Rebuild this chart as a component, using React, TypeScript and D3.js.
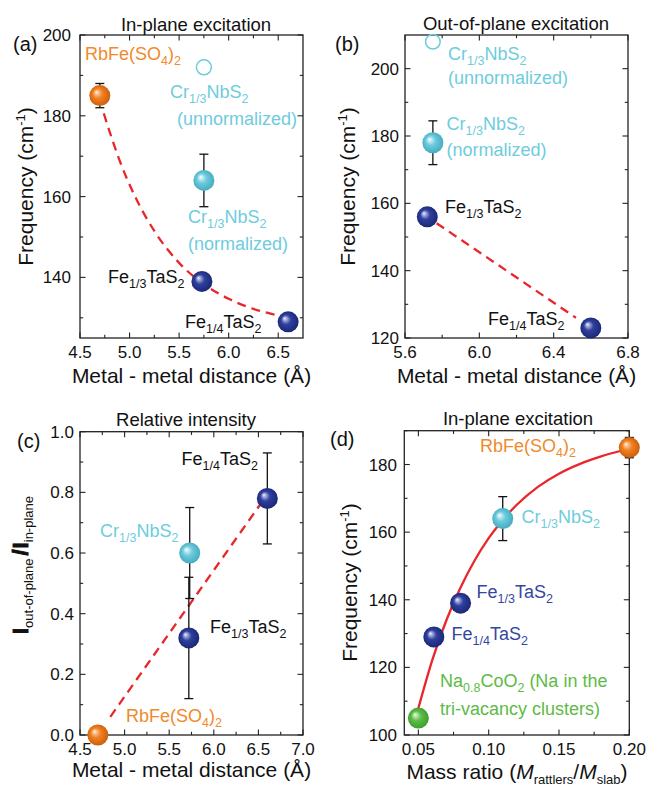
import React from 'react';
import * as d3 from 'd3';

// ---------- DATA ----------
// (a) In-plane excitation vs metal-metal distance
const aLabels = ['RbFe(SO4)2', 'Cr1/3NbS2 (normalized)', 'Fe1/3TaS2', 'Fe1/4TaS2'];
const aDist = [4.7, 5.75, 5.73, 6.6];
const aFreq = [185, 164, 139, 129];
const aErr = [3, 6.5, 0, 0];
const aColors = ['orange', 'cyan', 'navy', 'navy'];
const aOpenDist = [5.75];
const aOpenFreq = [192];
const aFitDist = [4.74, 4.9, 5.05, 5.25, 5.5, 5.75, 6.0, 6.25, 6.5];
const aFitFreq = [180.6, 168.9, 160.3, 151.5, 143.6, 138.3, 134.7, 132.2, 130.6];

// (b) Out-of-plane excitation
const bDist = [5.75, 5.72, 6.6];
const bFreq = [178, 156, 123];
const bErr = [6.5, 0, 0];
const bColors = ['cyan', 'navy', 'navy'];
const bOpenDist = [5.75];
const bOpenFreq = [208];
const bFitDist = [5.77, 6.52];
const bFitFreq = [154.1, 126.0];

// (c) Relative intensity
const cDist = [4.7, 5.73, 5.72, 6.6];
const cRatio = [0, 0.6, 0.32, 0.78];
const cErr = [0, 0.15, 0.2, 0.15];
const cColors = ['orange', 'cyan', 'navy', 'navy'];
const cFitDist = [4.84, 6.52];
const cFitRatio = [0.06, 0.76];

// (d) In-plane excitation vs mass ratio
const dMass = [0.05, 0.061, 0.08, 0.11, 0.2];
const dFreq = [105, 129, 139, 164, 185];
const dErr = [0, 0, 0, 6.5, 3];
const dColors = ['green', 'navy', 'navy', 'cyan', 'orange'];
const dFitMass = [0.049, 0.06, 0.07, 0.08, 0.09, 0.1, 0.11, 0.12, 0.135, 0.15, 0.165, 0.18, 0.196];
const dFitFreq = [106.4, 122.3, 134.0, 143.6, 151.6, 158.2, 163.6, 168.1, 173.4, 177.3, 180.2, 182.4, 184.3];

// ticks
const aXMajor = [4.5, 5.0, 5.5, 6.0, 6.5];
const aXMinor = [4.75, 5.25, 5.75, 6.25];
const aYMajor = [140, 160, 180, 200];
const aYMinor = [130, 150, 170, 190];
const bXMajor = [5.6, 6.0, 6.4, 6.8];
const bXMinor = [5.8, 6.2, 6.6];
const bYMajor = [120, 140, 160, 180, 200];
const bYMinor = [130, 150, 170, 190];
const cXMajor = [4.5, 5.0, 5.5, 6.0, 6.5, 7.0];
const cXMinor = [4.75, 5.25, 5.75, 6.25, 6.75];
const cYMajor = [0, 0.2, 0.4, 0.6, 0.8, 1.0];
const cYMinor = [0.1, 0.3, 0.5, 0.7, 0.9];
const dXMajor = [0.05, 0.1, 0.15, 0.2];
const dXMinor = [0.075, 0.125, 0.175];
const dYMajor = [100, 120, 140, 160, 180];
const dYMinor = [110, 130, 150, 170, 190];

// ---------- STYLE ----------
const FONT = "'Liberation Sans', Arial, Helvetica, sans-serif";
const COL: Record<string, { base: string; dark: string; light: string; text: string }> = {
  orange: { base: '#F28121', dark: '#C65A0B', light: '#FBD1A8', text: '#F08A2C' },
  cyan: { base: '#6DCBDC', dark: '#3EA8BD', light: '#D6F2F7', text: '#6ECCDD' },
  navy: { base: '#2E3F9E', dark: '#1A246E', light: '#B9C0E6', text: '#3447A0' },
  green: { base: '#5EBD46', dark: '#3A9A2A', light: '#CDEDC3', text: '#5DBB46' },
};
const RED = '#E8262B';
const BALL_R = 10.5;

type Seg = [string, ('b' | 'p' | 'i' | 'bi')?];

function Rich(props: {
  x: number; y: number; segs: Seg[]; size: number; sub: number; fill: string;
  anchor?: string; transform?: string; subShift?: number; supShift?: number;
}) {
  const { x, y, segs, size, sub, fill, anchor = 'start', transform, subShift = 5, supShift = -8 } = props;
  let cur = 0;
  return (
    <text x={x} y={y} fontSize={size} fill={fill} textAnchor={anchor} fontFamily={FONT} transform={transform}>
      {segs.map((s, i) => {
        const kind = s[1];
        const target = kind === 'b' || kind === 'bi' ? subShift : kind === 'p' ? supShift : 0;
        const dy = target - cur;
        cur = target;
        return (
          <tspan key={i} dy={dy} fontSize={kind === 'b' || kind === 'p' || kind === 'bi' ? sub : undefined}
            fontStyle={kind === 'i' ? 'italic' : undefined}>
            {s[0]}
          </tspan>
        );
      })}
    </text>
  );
}

type Scale = d3.ScaleLinear<number, number>;

function Frame(props: {
  xs: Scale; ys: Scale; xMajor: number[]; xMinor: number[]; yMajor: number[]; yMinor: number[];
  xFmt: (v: number) => string; yFmt: (v: number) => string; yLabelX: number;
}) {
  const { xs, ys, xMajor, xMinor, yMajor, yMinor, xFmt, yFmt, yLabelX } = props;
  const [l, r] = xs.range();
  const [b, t] = ys.range();
  const maj = 5.5, min = 3.2;
  const lines: JSX.Element[] = [];
  xMajor.forEach((v, i) => {
    const x = xs(v);
    lines.push(<line key={'xb' + i} x1={x} x2={x} y1={b} y2={b - maj} />);
    lines.push(<line key={'xt' + i} x1={x} x2={x} y1={t} y2={t + maj} />);
  });
  xMinor.forEach((v, i) => {
    const x = xs(v);
    lines.push(<line key={'xbm' + i} x1={x} x2={x} y1={b} y2={b - min} />);
    lines.push(<line key={'xtm' + i} x1={x} x2={x} y1={t} y2={t + min} />);
  });
  yMajor.forEach((v, i) => {
    const y = ys(v);
    lines.push(<line key={'yl' + i} x1={l} x2={l + maj} y1={y} y2={y} />);
    lines.push(<line key={'yr' + i} x1={r} x2={r - maj} y1={y} y2={y} />);
  });
  yMinor.forEach((v, i) => {
    const y = ys(v);
    lines.push(<line key={'ylm' + i} x1={l} x2={l + min} y1={y} y2={y} />);
    lines.push(<line key={'yrm' + i} x1={r} x2={r - min} y1={y} y2={y} />);
  });
  return (
    <g>
      <rect x={l} y={t} width={r - l} height={b - t} fill="none" stroke="#222" strokeWidth={1.3} />
      <g stroke="#222" strokeWidth={1.1}>{lines}</g>
      <g fontFamily={FONT} fontSize={17} fill="#111">
        {xMajor.map((v, i) => (
          <text key={'xl' + i} x={xs(v)} y={b + 20} textAnchor="middle">{xFmt(v)}</text>
        ))}
        {yMajor.map((v, i) => (
          <text key={'yll' + i} x={yLabelX} y={ys(v) + 6} textAnchor="end">{yFmt(v)}</text>
        ))}
      </g>
    </g>
  );
}

function Balls(props: { xs: Scale; ys: Scale; xv: number[]; yv: number[]; err: number[]; colors: string[] }) {
  const { xs, ys, xv, yv, err, colors } = props;
  return (
    <g>
      <g stroke="#111" strokeWidth={1.3}>
        {xv.map((v, i) => {
          if (!err[i]) return null;
          const x = xs(v);
          const y1 = ys(yv[i] - err[i]);
          const y2 = ys(yv[i] + err[i]);
          return (
            <g key={i}>
              <line x1={x} x2={x} y1={y1} y2={y2} />
              <line x1={x - 4.5} x2={x + 4.5} y1={y1} y2={y1} />
              <line x1={x - 4.5} x2={x + 4.5} y1={y2} y2={y2} />
            </g>
          );
        })}
      </g>
      {xv.map((v, i) => (
        <circle key={'b' + i} cx={xs(v)} cy={ys(yv[i])} r={BALL_R} fill={`url(#ball-${colors[i]})`} />
      ))}
    </g>
  );
}

function FitLine(props: { xs: Scale; ys: Scale; xv: number[]; yv: number[]; dashed: boolean }) {
  const { xs, ys, xv, yv, dashed } = props;
  const gen = d3.line<number>().x((_, i) => xs(xv[i])).y((d) => ys(d)).curve(d3.curveMonotoneX);
  return (
    <path d={gen(yv) || ''} fill="none" stroke={RED} strokeWidth={2.3}
      strokeDasharray={dashed ? '9 6' : undefined} />
  );
}

const xsA = d3.scaleLinear().domain([4.5, 6.75]).range([80, 303]);
const ysA = d3.scaleLinear().domain([125, 200]).range([338, 35]);
const xsB = d3.scaleLinear().domain([5.6, 6.8]).range([405, 628]);
const ysB = d3.scaleLinear().domain([120, 210]).range([338, 35]);
const xsC = d3.scaleLinear().domain([4.5, 7.0]).range([80, 303]);
const ysC = d3.scaleLinear().domain([0, 1]).range([735, 431.7]);
const xsD = d3.scaleLinear().domain([0.04, 0.2]).range([404.3, 629.3]);
const ysD = d3.scaleLinear().domain([100, 190]).range([735, 430.7]);

const f1 = d3.format('.1f');
const f0 = d3.format('d');
const f2 = d3.format('.2f');

const CR: Seg[] = [['Cr'], ['1/3', 'b'], ['NbS'], ['2', 'b']];
const FE13: Seg[] = [['Fe'], ['1/3', 'b'], ['TaS'], ['2', 'b']];
const FE14: Seg[] = [['Fe'], ['1/4', 'b'], ['TaS'], ['2', 'b']];
const RBFE: Seg[] = [['RbFe(SO'], ['4', 'b'], [')'], ['2', 'b']];
const FREQ: Seg[] = [['Frequency (cm'], ['-1', 'p'], [')']];
const DIST: Seg[] = [['Metal - metal distance (Å)']];

export default function App() {
  const A = 18; // annotation font size
  const S = 12.5; // subscript size
  const T = 18.5; // title size
  const L = 21; // axis label size
  return (
    <svg width={647} height={789} style={{ position: 'absolute', left: 0, top: 0, background: '#fff' }}>
      <defs>
        {Object.keys(COL).map((k) => (
          <radialGradient key={k} id={`ball-${k}`} cx="0.5" cy="0.5" r="0.55" fx="0.33" fy="0.33">
            <stop offset="0" stopColor="#ffffff" />
            <stop offset="0.1" stopColor={COL[k].light} />
            <stop offset="0.42" stopColor={COL[k].base} />
            <stop offset="1" stopColor={COL[k].dark} />
          </radialGradient>
        ))}
      </defs>
      <rect width={647} height={789} fill="#fff" />

      {/* ---------------- (a) ---------------- */}
      <Frame xs={xsA} ys={ysA} xMajor={aXMajor} xMinor={aXMinor} yMajor={aYMajor} yMinor={aYMinor}
        xFmt={f1} yFmt={f0} yLabelX={71} />
      <FitLine xs={xsA} ys={ysA} xv={aFitDist} yv={aFitFreq} dashed />
      {aOpenDist.map((v, i) => (
        <circle key={i} cx={xsA(v)} cy={ysA(aOpenFreq[i])} r={7.5} fill="none" stroke={COL.cyan.base} strokeWidth={1.5} />
      ))}
      <Balls xs={xsA} ys={ysA} xv={aDist} yv={aFreq} err={aErr} colors={aColors} />
      <text x={196} y={31} fontSize={T} textAnchor="middle" fontFamily={FONT} fill="#111">In-plane excitation</text>
      <text x={13} y={51} fontSize={20} fontFamily={FONT} fill="#111">(a)</text>
      <Rich x={85} y={60} segs={RBFE} size={A} sub={S} fill={COL.orange.text} />
      <Rich x={170} y={98} segs={CR} size={A} sub={S} fill={COL.cyan.text} />
      <text x={177} y={125} fontSize={A} fontFamily={FONT} fill={COL.cyan.text}>(unnormalized)</text>
      <Rich x={188} y={223} segs={CR} size={A} sub={S} fill={COL.cyan.text} />
      <text x={188} y={250} fontSize={A} fontFamily={FONT} fill={COL.cyan.text}>(normalized)</text>
      <Rich x={108} y={283} segs={FE13} size={A} sub={S} fill="#111" />
      <Rich x={185} y={328} segs={FE14} size={A} sub={S} fill="#111" />
      <Rich x={33} y={186.5} segs={FREQ} size={L} sub={13} fill="#111" anchor="middle"
        transform="rotate(-90 33 186.5)" />
      <Rich x={191.5} y={383} segs={DIST} size={L} sub={13} fill="#111" anchor="middle" />

      {/* ---------------- (b) ---------------- */}
      <Frame xs={xsB} ys={ysB} xMajor={bXMajor} xMinor={bXMinor} yMajor={bYMajor} yMinor={bYMinor}
        xFmt={f1} yFmt={f0} yLabelX={399} />
      <FitLine xs={xsB} ys={ysB} xv={bFitDist} yv={bFitFreq} dashed />
      {bOpenDist.map((v, i) => (
        <circle key={i} cx={xsB(v)} cy={ysB(bOpenFreq[i])} r={7.3} fill="none" stroke={COL.cyan.base} strokeWidth={1.5} />
      ))}
      <Balls xs={xsB} ys={ysB} xv={bDist} yv={bFreq} err={bErr} colors={bColors} />
      <text x={516} y={30} fontSize={T} textAnchor="middle" fontFamily={FONT} fill="#111">Out-of-plane excitation</text>
      <text x={335} y={51} fontSize={20} fontFamily={FONT} fill="#111">(b)</text>
      <Rich x={448} y={60} segs={CR} size={A} sub={S} fill={COL.cyan.text} />
      <text x={448} y={84} fontSize={A} fontFamily={FONT} fill={COL.cyan.text}>(unnormalized)</text>
      <Rich x={446.5} y={130} segs={CR} size={A} sub={S} fill={COL.cyan.text} />
      <text x={446.5} y={156} fontSize={A} fontFamily={FONT} fill={COL.cyan.text}>(normalized)</text>
      <Rich x={445} y={213} segs={FE13} size={A} sub={S} fill="#111" />
      <Rich x={488} y={325} segs={FE14} size={A} sub={S} fill="#111" />
      <Rich x={355} y={186.5} segs={FREQ} size={L} sub={13} fill="#111" anchor="middle"
        transform="rotate(-90 355 186.5)" />
      <Rich x={516.5} y={383} segs={DIST} size={L} sub={13} fill="#111" anchor="middle" />

      {/* ---------------- (c) ---------------- */}
      <Frame xs={xsC} ys={ysC} xMajor={cXMajor} xMinor={cXMinor} yMajor={cYMajor} yMinor={cYMinor}
        xFmt={f1} yFmt={f1} yLabelX={74} />
      <FitLine xs={xsC} ys={ysC} xv={cFitDist} yv={cFitRatio} dashed />
      <Balls xs={xsC} ys={ysC} xv={cDist} yv={cRatio} err={cErr} colors={cColors} />
      <text x={186} y={426} fontSize={T} textAnchor="middle" fontFamily={FONT} fill="#111">Relative intensity</text>
      <text x={17} y={448} fontSize={20} fontFamily={FONT} fill="#111">(c)</text>
      <Rich x={181.5} y={465} segs={FE14} size={A} sub={S} fill="#111" />
      <Rich x={100} y={537} segs={CR} size={A} sub={S} fill={COL.cyan.text} />
      <Rich x={210} y={633} segs={FE13} size={A} sub={S} fill="#111" />
      <Rich x={126} y={722} segs={RBFE} size={A} sub={S} fill={COL.orange.text} />
      <g transform="rotate(-90 28 565)">
        <text x={28} y={565} textAnchor="middle" fontFamily={FONT} fill="#111" fontSize={22}>
          <tspan fontWeight="bold" stroke="#111" strokeWidth={0.9}>I</tspan>
          <tspan fontSize={13} dy={5}>out-of-plane</tspan>
          <tspan fontWeight="bold" stroke="#111" strokeWidth={0.9} dy={-5} dx={3}>/</tspan>
          <tspan fontWeight="bold" stroke="#111" strokeWidth={0.9} dx={1}>I</tspan>
          <tspan fontSize={13} dy={5}>in-plane</tspan>
        </text>
      </g>
      <Rich x={191.5} y={777} segs={DIST} size={L} sub={13} fill="#111" anchor="middle" />

      {/* ---------------- (d) ---------------- */}
      <Frame xs={xsD} ys={ysD} xMajor={dXMajor} xMinor={dXMinor} yMajor={dYMajor} yMinor={dYMinor}
        xFmt={f2} yFmt={f0} yLabelX={397} />
      <FitLine xs={xsD} ys={ysD} xv={dFitMass} yv={dFitFreq} dashed={false} />
      <Balls xs={xsD} ys={ysD} xv={dMass} yv={dFreq} err={dErr} colors={dColors} />
      <text x={518} y={425} fontSize={T} textAnchor="middle" fontFamily={FONT} fill="#111">In-plane excitation</text>
      <text x={330} y={446} fontSize={20} fontFamily={FONT} fill="#111">(d)</text>
      <Rich x={480} y={452} segs={RBFE} size={A} sub={S} fill={COL.orange.text} />
      <Rich x={521.5} y={523} segs={CR} size={A} sub={S} fill={COL.cyan.text} />
      <Rich x={476.5} y={598} segs={FE13} size={A} sub={S} fill={COL.navy.text} />
      <Rich x={451.5} y={640} segs={FE14} size={A} sub={S} fill={COL.navy.text} />
      <Rich x={440} y={687} segs={[['Na'], ['0.8', 'b'], ['CoO'], ['2', 'b'], [' (Na in the']]} size={A} sub={S}
        fill={COL.green.text} />
      <text x={440} y={715} fontSize={A} fontFamily={FONT} fill={COL.green.text}>tri-vacancy clusters)</text>
      <Rich x={357} y={582.5} segs={FREQ} size={L} sub={13} fill="#111" anchor="middle"
        transform="rotate(-90 357 582.5)" />
      <Rich x={517} y={779} size={L} sub={13} fill="#111" anchor="middle"
        segs={[['Mass ratio ('], ['M', 'i'], ['rattlers', 'b'], ['/'], ['M', 'i'], ['slab', 'b'], [')']]} />
    </svg>
  );
}
